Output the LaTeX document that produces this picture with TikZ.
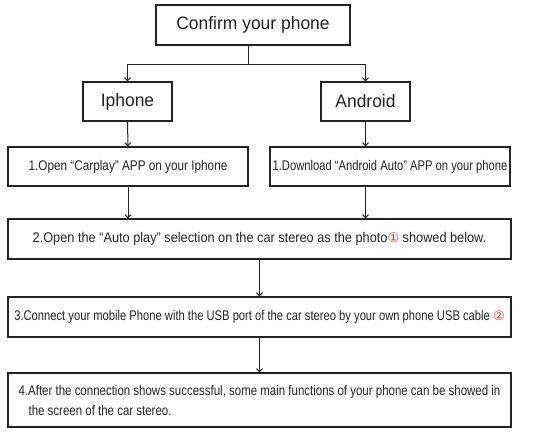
\documentclass[tikz,border=0pt]{standalone}
\usepackage{fontspec}
\setmainfont[FakeStretch=0.84]{Liberation Sans}
\newfontfamily\bigfont[FakeStretch=0.97]{Liberation Sans}
\newfontfamily\tightfont[FakeStretch=0.80]{Liberation Sans}
\newfontfamily\loosefont[FakeStretch=0.91]{Liberation Sans}
\newfontfamily\lastfont[FakeStretch=0.82]{Liberation Sans}
\newfontfamily\circfont{DejaVu Sans}
\usetikzlibrary{positioning,arrows.meta}
\usepackage{xcolor}
\definecolor{ink}{HTML}{222222}
\definecolor{mark}{HTML}{E03030}
\newcommand{\circnum}[1]{{\circfont\color{mark}\fontsize{13}{13}\selectfont #1}}

\begin{document}
\begin{tikzpicture}[
      x=1pt, y=-1pt,
      box/.style={draw=ink, line width=1.3pt, text=ink, inner sep=0pt, minimum height=39pt, align=center,
                  font=\fontsize{14}{20}\selectfont},
      head/.style={box, minimum width=89pt, font=\bigfont\fontsize{18}{20}\selectfont},
      wide/.style={box, minimum width=503pt, minimum height=40pt},
      arr/.style={draw=ink, line width=1pt, -{Straight Barb[length=3pt, width=6pt]}},
    ]
    \useasboundingbox (0,0) rectangle (550,445);
    \node[head, minimum width=194pt, minimum height=40pt] (confirm) at (253,25) {Confirm your phone};
    \node[head]                     (iphone)  at (127.5,101.5) {Iphone};
    \node[head]                     (android) at (365.5,101.5) {Android};
    \node[box, minimum width=240pt] (stepA)   at (128,166.5) {1.Open “Carplay” APP on your Iphone};
    \node[box, minimum width=240pt, font=\tightfont\fontsize{14}{20}\selectfont] (stepB) at (390,166.5)
      {1.Download “Android Auto” APP on your phone};
    \node[wide, font=\loosefont\fontsize{14}{20}\selectfont] (open) at (259.5,239)
      {2.Open the “Auto play” selection on the car stereo as the photo\circnum{①} showed below.};
    \node[wide, font=\tightfont\fontsize{14}{20}\selectfont] (connect) at (259.5,317)
      {3.Connect your mobile Phone with the USB port of the car stereo by your own phone USB cable \circnum{②}};
    \node[wide, minimum height=54pt, align=left, font=\lastfont\fontsize{14}{20}\selectfont] (done) at (259.5,400)
      {4.After the connection shows successful, some main functions of your phone can be showed in\\
       \hspace*{10pt}the screen of the car stereo.};
    \draw[draw=ink, line width=1pt] ([xshift=-5pt]confirm.south) -- ++(0,19) coordinate (split);
    \draw[arr] (split) -| (iphone.north);
    \draw[arr] (split) -| (android.north);
    \draw[arr] (iphone)  -- (stepA);
    \draw[arr] (android) -- (android |- stepB.north);
    \draw[arr] (stepA)   -- (stepA |- open.north);
    \draw[arr] (android |- stepB.south) -- (android |- open.north);
    \draw[arr] (open)    -- (connect);
    \draw[arr] (connect) -- (done);
  \end{tikzpicture}
\end{document}
